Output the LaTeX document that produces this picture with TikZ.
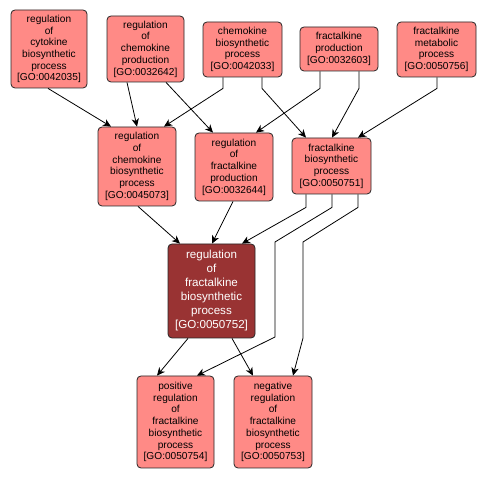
\documentclass[tikz,border=0pt]{standalone}
\usepackage{fontspec}
\setmainfont{Liberation Sans}
\usetikzlibrary{arrows.meta,calc}
\definecolor{salmon}{RGB}{255,138,134}
\definecolor{darkred}{RGB}{153,51,51}
\definecolor{edgeblk}{RGB}{0,0,0}
\begin{document}
\begin{tikzpicture}[x=0.75pt,y=-0.75pt,
  gobox/.style={draw=black!85, line width=0.6pt, rounded corners=3pt, fill=salmon,
    inner sep=0pt, align=center, font=\fontsize{7.6}{8.8}\selectfont},
  mainbox/.style={gobox, fill=darkred, text=white, font=\fontsize{8.7}{10.5}\selectfont},
  edge/.style={draw=edgeblk, line width=0.6pt, -{Stealth[length=6pt,width=5.5pt,inset=1.8pt]}}]
\useasboundingbox (0,0) rectangle (486,477);
\fill[white] (0,0) rectangle (486,477);
% nodes
\node[gobox, minimum width=57pt, minimum height=58.5pt] (A) at (49,49) {regulation\\of\\cytokine\\biosynthetic\\process\\{[GO:0042035]}};
\node[gobox, minimum width=57.75pt, minimum height=49.5pt] (B) at (145.5,49) {regulation\\of\\chemokine\\production\\{[GO:0032642]}};
\node[gobox, minimum width=59.25pt, minimum height=41.25pt] (C) at (242.5,49.5) {chemokine\\biosynthetic\\process\\{[GO:0042033]}};
\node[gobox, minimum width=58.5pt, minimum height=33pt] (D) at (339,49) {fractalkine\\production\\{[GO:0032603]}};
\node[gobox, minimum width=59.25pt, minimum height=41.25pt] (E) at (436.5,49.5) {fractalkine\\metabolic\\process\\{[GO:0050756]}};
\node[gobox, minimum width=58.5pt, minimum height=59.25pt] (F) at (137,166.5) {regulation\\of\\chemokine\\biosynthetic\\process\\{[GO:0045073]}};
\node[gobox, minimum width=58.5pt, minimum height=51pt] (G) at (234,167) {regulation\\of\\fractalkine\\production\\{[GO:0032644]}};
\node[gobox, minimum width=59.25pt, minimum height=42pt] (H) at (331.5,166) {fractalkine\\biosynthetic\\process\\{[GO:0050751]}};
\node[mainbox, minimum width=65.25pt, minimum height=70.5pt] (I) at (211.5,291) {regulation\\of\\fractalkine\\biosynthetic\\process\\{[GO:0050752]}};
\node[gobox, minimum width=57.75pt, minimum height=69pt] (J) at (175.5,422) {positive\\regulation\\of\\fractalkine\\biosynthetic\\process\\{[GO:0050754]}};
\node[gobox, minimum width=58.5pt, minimum height=69pt] (K) at (273,422) {negative\\regulation\\of\\fractalkine\\biosynthetic\\process\\{[GO:0050753]}};
% edges top -> middle
\draw[edge] ($(A.south)+(-1,0)$) -- ($(F.north)+(-26,0)$);
\draw[edge] ($(B.south)+(-18.5,0)$) -- ($(F.north)+(0,0)$);
\draw[edge] ($(C.south)+(-19.5,0)$) -- ++(0,11) -- ($(F.north)+(27,0)$);
\draw[edge] ($(B.south)+(20.5,0)$) -- ($(G.north)+(-21,0)$);
\draw[edge] ($(C.south)+(19.5,0)$) -- ++(0,11) -- ($(H.north)+(-25.5,0)$);
\draw[edge] ($(D.south)+(-19,0)$) -- ++(0,17) -- ($(G.north)+(22,0)$);
\draw[edge] ($(D.south)+(20,0)$) -- ++(0,17) -- ($(H.north)+(0.5,0)$);
\draw[edge] ($(E.south)+(0.5,0)$) -- ++(0,11) -- ($(H.north)+(26.5,0)$);
% middle -> main
\draw[edge] ($(F.south)+(1,0)$) -- ($(I.north)+(-31.5,0)$);
\draw[edge] ($(G.south)+(-1,0)$) -- ($(I.north)+(0.5,0)$);
\draw[edge] ($(H.south)+(-25.5,0)$) -- ++(0,13) -- ($(I.north)+(30.5,0)$);
% H -> bottom
\draw[edge] ($(H.south)+(0.5,0)$) -- ++(0,13) -- (275,242) -- (275,337) -- ($(J.north)+(21.5,0)$);
\draw[edge] ($(H.south)+(26.5,0)$) -- ++(0,13) -- (303,242) -- (303,338) -- ($(K.north)+(20,0)$);
% main -> bottom
\draw[edge] ($(I.south)+(-23.5,0)$) -- ($(J.north)+(-18.5,0)$);
\draw[edge] ($(I.south)+(20.5,0)$) -- ($(K.north)+(-20,0)$);
\end{tikzpicture}
\end{document}
